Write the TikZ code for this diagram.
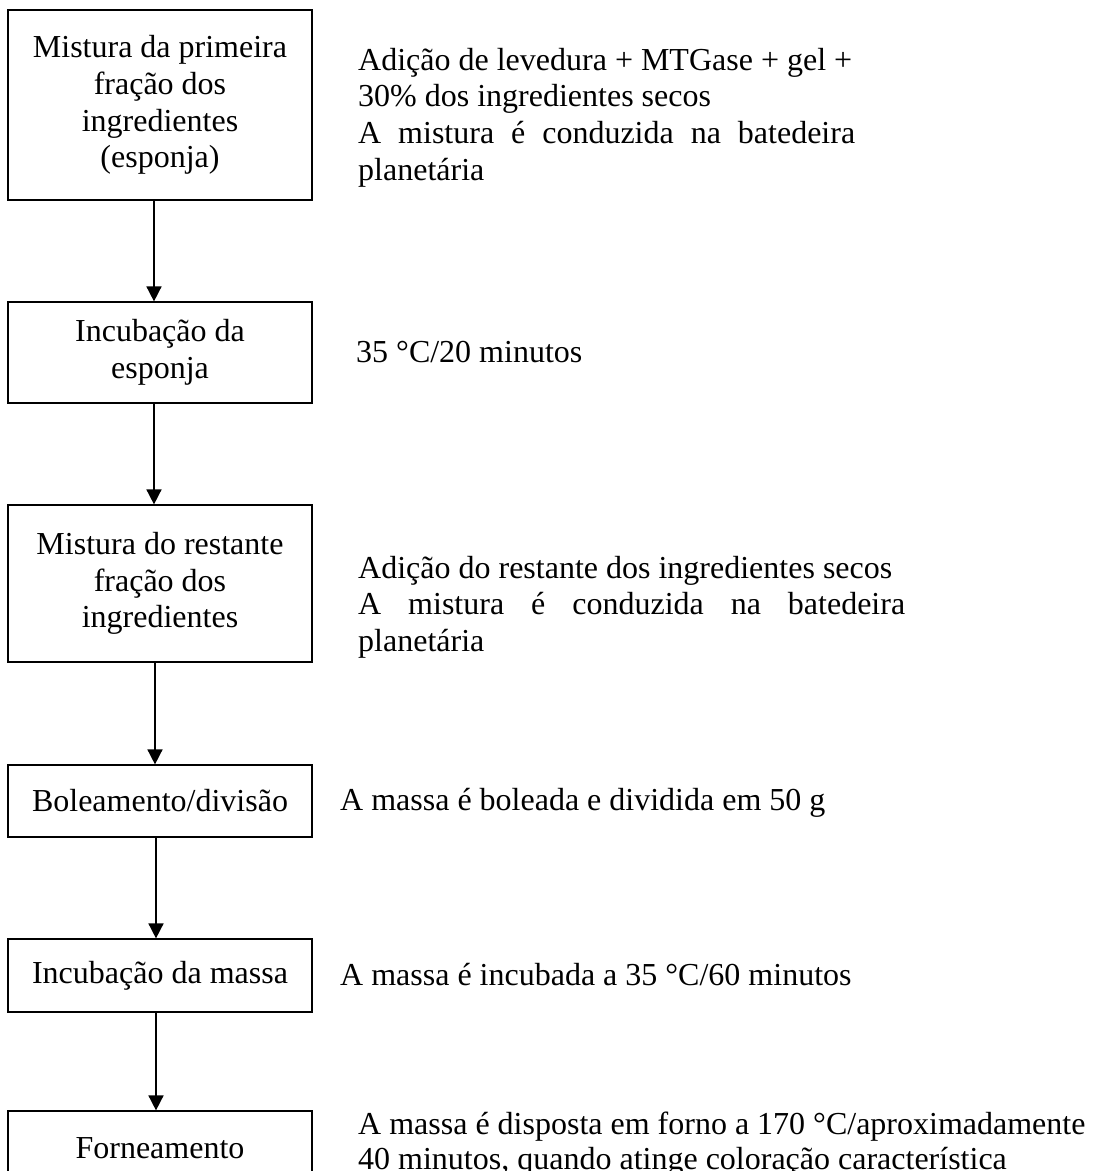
\documentclass[tikz,border=0pt]{standalone}
\usepackage{fontspec}
\setmainfont{Liberation Serif}
\usetikzlibrary{arrows.meta}
\begin{document}
\begin{tikzpicture}[x=1pt,y=-1pt,
  stepbox/.style={draw, line width=1.2pt, align=center, inner sep=0pt,
    font=\fontsize{32}{36.7}\selectfont, minimum width=304pt},
  note/.style={inner sep=0pt, anchor=base west, align=left,
    font=\fontsize{32}{36.7}\selectfont},
  arr/.style={line width=1.6pt, -{Triangle[width=15pt,length=15pt]}}]
\useasboundingbox (0,0) rectangle (1103,1171);
\clip (0,0) rectangle (1103,1171);

\node[stepbox, minimum height=190pt] (b1) at (160,105) {Mistura da primeira\\fração dos\\ingredientes\\(esponja)};
\node[stepbox, minimum height=101pt] (b2) at (160,352.5) {Incubação da\\esponja};
\node[stepbox, minimum height=157pt] (b3) at (160,583.5) {Mistura do restante\\fração dos\\ingredientes};
\node[stepbox, minimum height=72pt] (b4) at (160,801) {Boleamento/divisão};
\node[stepbox, minimum height=73pt] (b5) at (160,975.5) {Incubação da massa};
\node[stepbox, minimum height=74pt] (b6) at (160,1148) {Forneamento};

\draw[arr] ([xshift=-6pt]b1.south) -- ([xshift=-6pt]b2.north);
\draw[arr] ([xshift=-6pt]b2.south) -- ([xshift=-6pt]b3.north);
\draw[arr] ([xshift=-5pt]b3.south) -- ([xshift=-5pt]b4.north);
\draw[arr] ([xshift=-4pt]b4.south) -- ([xshift=-4pt]b5.north);
\draw[arr] ([xshift=-4pt]b5.south) -- ([xshift=-4pt]b6.north);

\node[note, text width=497pt, align=justify] (n1) at (358,70) {Adição de levedura + MTGase + gel +\hfill\break 30\% dos ingredientes secos\hfill\break A mistura é conduzida na batedeira\linebreak planetária};
\node[note] (n2) at (356,362) {35 °C/20 minutos};
\node[note, text width=547pt, align=justify] (n3) at (358,578) {Adição do restante dos ingredientes secos\hfill\break A mistura é conduzida na batedeira\linebreak planetária};
\node[note] (n4) at (340,810) {A massa é boleada e dividida em 50 g};
\node[note] (n5) at (340,985) {A massa é incubada a 35 °C/60 minutos};
\node[note, font=\fontsize{32}{35}\selectfont] (n6) at (358,1169) {A massa é disposta em forno a 170 °C/aproximadamente\\40 minutos, quando atinge coloração característica};
\end{tikzpicture}
\end{document}
